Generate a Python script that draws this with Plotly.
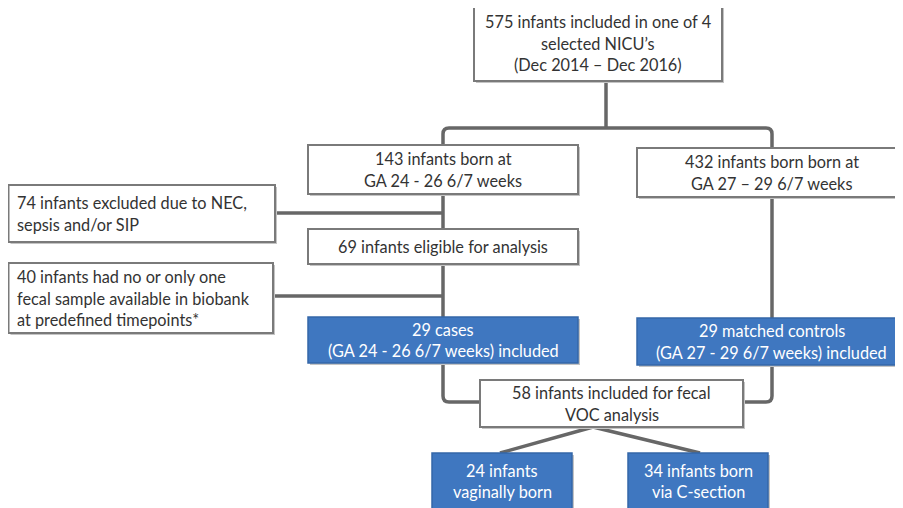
import plotly.graph_objects as go

# ---- chart content (text of each flowchart box) ----
box_names = ["top", "early", "late", "excl1", "elig", "excl2", "cases", "controls", "voc", "vag", "csec"]
box_texts = [
    ["575 infants included in one of 4", "selected NICU\u2019s", "(Dec 2014 \u2013 Dec 2016)"],
    ["143 infants born at", "GA 24 - 26 6/7 weeks"],
    ["432 infants born born at", "GA 27 \u2013 29 6/7 weeks"],
    ["74 infants excluded due to NEC,", "sepsis and/or SIP"],
    ["69 infants eligible for analysis"],
    ["40 infants had no or only one", "fecal sample available in biobank", "at predefined timepoints*"],
    ["29 cases", "(GA 24 - 26 6/7 weeks) included"],
    ["29 matched controls", "(GA 27 - 29 6/7 weeks) included"],
    ["58 infants included for fecal", "VOC analysis"],
    ["24 infants", "vaginally born"],
    ["34 infants born", "via C-section"],
]
box_filled = [False, False, False, False, False, False, True, True, False, True, True]
box_align = ["center", "center", "center", "left", "center", "left", "center", "center", "center", "center", "center"]

# ---- layout geometry (pixels: x0, y0, x1, y1) ----
geom = {
    "top": (474, 5, 722, 81),
    "early": (308, 145, 578, 194),
    "late": (637, 148, 906, 197),
    "excl1": (8.5, 185, 275, 242),
    "elig": (308, 229, 578, 264),
    "excl2": (8.5, 263, 273, 333),
    "cases": (308, 317, 578, 363),
    "controls": (637, 318, 906, 365),
    "voc": (480, 380, 743, 427),
    "vag": (432, 453, 572, 512),
    "csec": (628, 453, 768, 512),
}
line_gap = 21.5
BLUE = "#3F77C0"
LINE = "#676767"
BORDER = "#7a7a7a"
TEXT = "#333333"
FONT = "Lato"
FSIZE = 16.3

W, H = 903, 508
OFF = 8  # page body margin
fig = go.Figure()
fig.add_trace(go.Scatter(x=[OFF, W], y=[OFF, H], mode="markers", marker=dict(opacity=0), hoverinfo="skip", showlegend=False))

shapes = []
# connectors (drawn first, under the boxes)
conn = [
    "M606,81 L606,128",
    "M443,146 L443,134 Q443,128 449,128 L766,128 Q772,128 772,134 L772,149",
    "M443,194 L443,317",
    "M443,363 L443,396 Q443,402 449,402 L766,402 Q772,402 772,396 L772,365",
    "M772,197 L772,318",
    "M275,213 L443,213",
    "M273,296 L443,296",
    "M593,427 L500,453",
    "M593,427 L700,453",
]
for p in conn:
    shapes.append(dict(type="path", path=p, xref="x", yref="y",
                       line=dict(color=LINE, width=3.5), layer="above"))

annotations = []
for name, lines, filled, align in zip(box_names, box_texts, box_filled, box_align):
    x0, y0, x1, y1 = geom[name]
    # shadow
    shapes.append(dict(type="rect", x0=x0 + 2, y0=y0 + 2, x1=x1 + 2, y1=y1 + 2, xref="x", yref="y",
                       fillcolor="#c4c4c4", line=dict(width=0), layer="above"))
    shapes.append(dict(type="rect", x0=x0, y0=y0, x1=x1, y1=y1, xref="x", yref="y",
                       fillcolor=BLUE if filled else "white",
                       line=dict(color="#3567a8" if filled else BORDER, width=1.5 if filled else 2),
                       layer="above"))
    n = len(lines)
    yc = (y1 + y0) / 2 if name not in ("vag", "csec") else 481
    for i, t in enumerate(lines):
        yy = yc + (i - (n - 1) / 2) * line_gap
        if align == "left":
            xx, xa = x0 + 6, "left"
        else:
            xx, xa = (x0 + x1) / 2, "center"
        annotations.append(dict(x=xx, y=yy, xref="x", yref="y", text=t, showarrow=False,
                                xanchor=xa, yanchor="middle",
                                font=dict(family=FONT, size=FSIZE, color="white" if filled else TEXT)))

fig.update_layout(
    width=W - OFF, height=H - OFF, margin=dict(l=0, r=0, t=0, b=0),
    paper_bgcolor="white", plot_bgcolor="white",
    xaxis=dict(range=[OFF, W], visible=False, fixedrange=True),
    yaxis=dict(range=[H, OFF], visible=False, fixedrange=True),
    shapes=shapes, annotations=annotations, showlegend=False,
)
fig.write_html("out.html", config={"displayModeBar": False})
